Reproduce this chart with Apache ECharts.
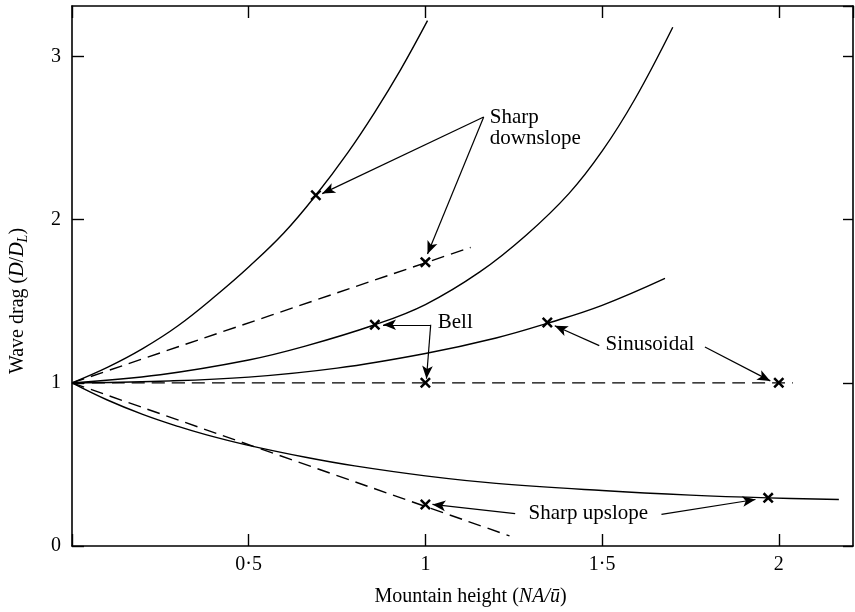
<!DOCTYPE html>
<html>
<head>
<meta charset="utf-8">
<script src="https://cdn.jsdelivr.net/npm/echarts@6/dist/echarts.min.js"></script>
<style>
html,body{margin:0;padding:0;background:#fff;}
#c{width:855px;height:612px;}
</style>
</head>
<body>
<div id="c"></div>
<script>
// ---- data ----
const sharpDownSolid = [[0,1],[0.1,1.095],[0.2,1.21],[0.3,1.35],[0.41,1.54],[0.5,1.71],[0.6,1.92],[0.69,2.15],[0.78,2.41],[0.857,2.66],[0.93,2.92],[1.006,3.22]];
const sharpDownDashed = [[0,1],[1.128,1.83]];
const bellSolid = [[0,1],[0.25,1.05],[0.5,1.14],[0.66,1.225],[0.857,1.356],[1.0,1.48],[1.154,1.68],[1.285,1.905],[1.406,2.16],[1.5,2.42],[1.593,2.74],[1.70,3.18]];
const linearDashed = [[0,1],[2.04,1]];
const sinSolid = [[0,1],[0.25,1.01],[0.5,1.035],[0.75,1.09],[1.0,1.18],[1.2,1.275],[1.345,1.365],[1.5,1.475],[1.678,1.64]];
const upSolid = [[0,1],[0.1,0.895],[0.2,0.807],[0.3,0.733],[0.381,0.681],[0.493,0.62],[0.661,0.544],[0.8,0.491],[1.0,0.43],[1.2,0.384],[1.5,0.34],[1.75,0.312],[1.97,0.295],[2.17,0.285]];
const upDashed = [[0,1],[1.238,0.062]];

const crossX = [0.69, 1.0, 0.857, 1.0, 1.345, 2.0, 1.0, 1.97];
const crossY = [2.15, 1.74, 1.356, 1.0, 1.37, 1.0, 0.255, 0.295];

const xTickValues = [0.5, 1, 1.5, 2];
const xTickLabels = ['0·5', '1', '1·5', '2'];
const yTickValues = [0, 1, 2, 3];
const yTickLabels = ['0', '1', '2', '3'];

const labelTexts = ['Sharp\ndownslope', 'Bell', 'Sinusoidal', 'Sharp upslope'];
const labelX = [1.182, 1.035, 1.51, 1.292];
const labelY = [2.56, 1.37, 1.236, 0.2];

// arrows: [fromX, fromY, toX, toY]
const arrows = [
  [1.165, 2.63, 0.708, 2.16],
  [1.165, 2.63, 1.006, 1.79],
  [1.015, 1.356, 0.88, 1.356],
  [1.015, 1.356, 1.003, 1.025],
  [1.492, 1.228, 1.366, 1.35],
  [1.791, 1.22, 1.976, 1.012],
  [1.254, 0.198, 1.02, 0.255],
  [1.668, 0.194, 1.934, 0.285]
];

const X_MIN = 0, X_MAX = 2.21, Y_MIN = 0, Y_MAX = 3.31;

// ---- chart ----
const FONT = 'Liberation Serif';
const chart = echarts.init(document.getElementById('c'), null, {renderer: 'canvas'});

function fmt(vals, labels) {
  return function (v) {
    for (let i = 0; i < vals.length; i++) if (Math.abs(vals[i] - v) < 1e-6) return labels[i];
    return '';
  };
}

const solid = {color: '#000', width: 1.4, type: 'solid'};
const dashed = {color: '#000', width: 1.4, type: [13, 7]};

function lineSeries(data, style) {
  return {
    type: 'line', data: data, showSymbol: false, symbol: 'none', smooth: 0.4,
    lineStyle: style, silent: true, z: 3
  };
}

const crossPath = 'path://M0,1.6 L1.6,0 L5,3.4 L8.4,0 L10,1.6 L6.6,5 L10,8.4 L8.4,10 L5,6.6 L1.6,10 L0,8.4 L3.4,5 Z';

const option = {
  animation: false,
  backgroundColor: '#fff',
  grid: {left: 63, right: 2, top: 6, bottom: 60, containLabel: false},
  xAxis: [{
    type: 'value', min: X_MIN, max: X_MAX, interval: 0.5, position: 'bottom',
    axisLine: {show: true, onZero: false, lineStyle: {color: '#000', width: 1.6}},
    axisTick: {show: true, inside: true, length: 12, lineStyle: {color: '#000', width: 1.4}},
    splitLine: {show: false},
    axisLabel: {show: true, formatter: fmt(xTickValues, xTickLabels), color: '#000', fontFamily: FONT, fontSize: 20, margin: 9, showMaxLabel: false},
    name: '{n|Mountain height (}{i|NA/ū}{n|)}',
    nameLocation: 'middle', nameGap: 41,
    nameTextStyle: {padding: [0, 0, 0, 16], rich: {
      n: {fontFamily: FONT, fontSize: 20, color: '#000'},
      i: {fontFamily: FONT, fontSize: 20, color: '#000', fontStyle: 'italic'}
    }}
  }, {
    type: 'value', min: X_MIN, max: X_MAX, interval: 0.5, position: 'top',
    axisLine: {show: true, onZero: false, lineStyle: {color: '#000', width: 1.6}},
    axisTick: {show: true, inside: true, length: 12, lineStyle: {color: '#000', width: 1.4}},
    splitLine: {show: false}, axisLabel: {show: false}
  }],
  yAxis: [{
    type: 'value', min: Y_MIN, max: Y_MAX, interval: 1, position: 'left',
    axisLine: {show: true, onZero: false, lineStyle: {color: '#000', width: 1.6}},
    axisTick: {show: true, inside: true, length: 12, lineStyle: {color: '#000', width: 1.4}},
    splitLine: {show: false},
    axisLabel: {show: true, formatter: fmt(yTickValues, yTickLabels), color: '#000', fontFamily: FONT, fontSize: 20, margin: 11, showMaxLabel: false},
    name: '{n|Wave drag (}{i|D}{n|/}{i|D}{s|L}{n|)}',
    nameLocation: 'middle', nameRotate: 90, nameGap: 42,
    nameTextStyle: {padding: [0, 50, 0, 0], rich: {
      n: {fontFamily: FONT, fontSize: 20, color: '#000'},
      i: {fontFamily: FONT, fontSize: 20, color: '#000', fontStyle: 'italic'},
      s: {fontFamily: FONT, fontSize: 14, color: '#000', fontStyle: 'italic', padding: [10, 0, 0, 0]}
    }}
  }, {
    type: 'value', min: Y_MIN, max: Y_MAX, interval: 1, position: 'right',
    axisLine: {show: true, onZero: false, lineStyle: {color: '#000', width: 1.6}},
    axisTick: {show: true, inside: true, length: 10, lineStyle: {color: '#000', width: 1.4}},
    splitLine: {show: false}, axisLabel: {show: false}
  }],
  series: [
    lineSeries(sharpDownSolid, solid),
    lineSeries(sharpDownDashed, dashed),
    lineSeries(bellSolid, solid),
    lineSeries(linearDashed, dashed),
    lineSeries(sinSolid, solid),
    lineSeries(upSolid, solid),
    lineSeries(upDashed, dashed),
    {
      type: 'scatter', silent: true, z: 5,
      data: crossX.map((x, i) => [x, crossY[i]]),
      symbol: crossPath, symbolSize: 11,
      itemStyle: {color: '#000', opacity: 1}
    },
    {
      type: 'scatter', silent: true, z: 6,
      data: labelX.map((x, i) => ({value: [x, labelY[i]], name: labelTexts[i]})),
      symbolSize: 0,
      itemStyle: {opacity: 1},
      label: {
        show: true, position: 'right', distance: 0, formatter: p => p.name,
        color: '#000', opacity: 1, fontFamily: FONT, fontSize: 21, lineHeight: 21, align: 'left'
      },
      markLine: {
        silent: true, animation: false,
        symbol: ['none', 'arrow'], symbolSize: [8, 13],
        label: {show: false},
        lineStyle: {color: '#000', width: 1.2, type: 'solid', opacity: 1},
        itemStyle: {color: '#000', opacity: 1},
        emphasis: {disabled: true},
        data: arrows.map(a => [
          {coord: [a[0], a[1]], symbol: 'none'},
          {coord: [a[2], a[3]], symbol: 'arrow'}
        ])
      }
    }
  ]
};
chart.setOption(option);
</script>
</body>
</html>
